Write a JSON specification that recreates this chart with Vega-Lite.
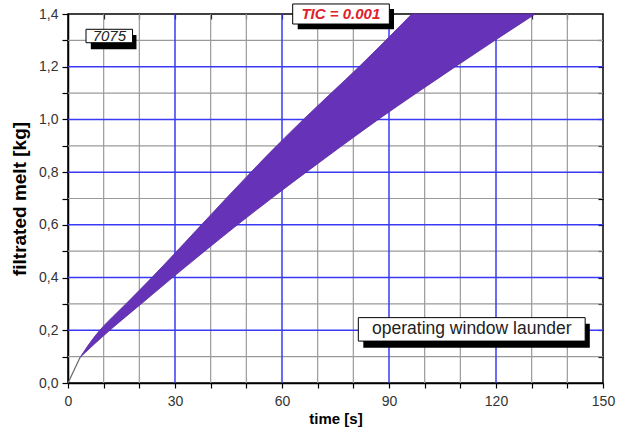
{
  "$schema": "https://vega.github.io/schema/vega-lite/v6.json",
  "width": 535,
  "height": 369,
  "autosize": {"type": "none"},
  "padding": {"left": 68, "top": 14, "right": 15, "bottom": 46},
  "background": "white",
  "config": {
    "view": {"stroke": "black", "strokeWidth": 1.5},
    "font": "Liberation Sans"
  },
  "datasets": {
    "band": [
      {"melt": 0.0975, "t_fast": 3.4, "t_slow": 3.4},
      {"melt": 0.2, "t_fast": 8.9, "t_slow": 11.7},
      {"melt": 0.3, "t_fast": 16.2, "t_slow": 20.5},
      {"melt": 0.4, "t_fast": 23.5, "t_slow": 29.3},
      {"melt": 0.5, "t_fast": 30.5, "t_slow": 38.3},
      {"melt": 0.6, "t_fast": 37.4, "t_slow": 47.5},
      {"melt": 0.7, "t_fast": 44.3, "t_slow": 57.0},
      {"melt": 0.8, "t_fast": 51.3, "t_slow": 66.8},
      {"melt": 0.9, "t_fast": 58.5, "t_slow": 76.8},
      {"melt": 1.0, "t_fast": 66.0, "t_slow": 87.0},
      {"melt": 1.1, "t_fast": 73.8, "t_slow": 97.7},
      {"melt": 1.2, "t_fast": 81.6, "t_slow": 108.6},
      {"melt": 1.3, "t_fast": 89.1, "t_slow": 119.7},
      {"melt": 1.4, "t_fast": 96.4, "t_slow": 131.0}
    ],
    "start": [
      {"t": 0, "melt": 0},
      {"t": 3.4, "melt": 0.0975}
    ],
    "gridx_minor": [{"t": 10}, {"t": 20}, {"t": 40}, {"t": 50}, {"t": 70}, {"t": 80}, {"t": 100}, {"t": 110}, {"t": 130}, {"t": 140}],
    "gridx_major": [{"t": 30}, {"t": 60}, {"t": 90}, {"t": 120}],
    "gridy_minor": [{"v": 0.1}, {"v": 0.3}, {"v": 0.5}, {"v": 0.7}, {"v": 0.9}, {"v": 1.1}, {"v": 1.3}],
    "gridy_major": [{"v": 0.2}, {"v": 0.4}, {"v": 0.6}, {"v": 0.8}, {"v": 1.0}, {"v": 1.2}],
    "shadows": [
      {"x1": 6.4, "x2": 19.2, "y1": 1.32, "y2": 1.266},
      {"x1": 64.4, "x2": 91.4, "y1": 1.419, "y2": 1.342},
      {"x1": 82.8, "x2": 146.3, "y1": 0.225, "y2": 0.134}
    ],
    "boxes": [
      {"x1": 5.05, "x2": 18.1, "y1": 1.342, "y2": 1.291},
      {"x1": 63.0, "x2": 90.1, "y1": 1.438, "y2": 1.362},
      {"x1": 81.4, "x2": 145.0, "y1": 0.248, "y2": 0.159}
    ],
    "alloy": [{"t": 11.6, "melt": 1.317, "label": "7075"}],
    "tic": [{"t": 76.5, "melt": 1.40, "label": "TIC = 0.001"}],
    "window": [{"t": 113.2, "melt": 0.204, "label": "operating window launder"}]
  },
  "resolve": {"axis": {"x": "independent", "y": "independent"}},
  "layer": [
    {
      "data": {"name": "gridx_minor"},
      "mark": {"type": "rule", "color": "#9a9a9a", "strokeWidth": 1.2},
      "encoding": {
        "x": {"field": "t", "type": "quantitative", "scale": {"domain": [0, 150], "nice": false}, "axis": null}
      }
    },
    {
      "data": {"name": "gridy_minor"},
      "mark": {"type": "rule", "color": "#9a9a9a", "strokeWidth": 1.2},
      "encoding": {
        "y": {"field": "v", "type": "quantitative", "scale": {"domain": [0, 1.4], "nice": false}, "axis": null}
      }
    },
    {
      "data": {"name": "gridx_major"},
      "mark": {"type": "rule", "color": "#3a3af5", "strokeWidth": 1.5},
      "encoding": {
        "x": {"field": "t", "type": "quantitative", "axis": null}
      }
    },
    {
      "data": {"name": "gridy_major"},
      "mark": {"type": "rule", "color": "#3a3af5", "strokeWidth": 1.5},
      "encoding": {
        "y": {"field": "v", "type": "quantitative", "axis": null}
      }
    },
    {
      "data": {"name": "band"},
      "mark": {"type": "area", "orient": "horizontal", "interpolate": "monotone", "color": "#6632b8", "stroke": "#55289f", "strokeWidth": 0.8},
      "encoding": {
        "y": {
          "field": "melt", "type": "quantitative",
          "axis": {
            "orient": "left",
            "values": [0, 0.1, 0.2, 0.3, 0.4, 0.5, 0.6, 0.7, 0.8, 0.9, 1.0, 1.1, 1.2, 1.3, 1.4],
            "labelExpr": "round(datum.value*10) % 2 == 0 ? replace(format(datum.value, '.1f'), '.', ',') : ''",
            "grid": false,
            "domainColor": "black", "domainWidth": 1.5,
            "tickColor": "black", "tickSize": 6, "tickWidth": 1.2,
            "labelFontSize": 14, "labelColor": "#333333", "labelPadding": 4,
            "labelOverlap": false, "labelFlush": false,
            "title": "filtrated melt [kg]", "titleFontSize": 19, "titleFontWeight": "bold",
            "titleColor": "black", "titlePadding": 9
          }
        },
        "x": {
          "field": "t_fast", "type": "quantitative",
          "axis": {
            "orient": "bottom",
            "values": [0, 10, 20, 30, 40, 50, 60, 70, 80, 90, 100, 110, 120, 130, 140, 150],
            "labelExpr": "datum.value % 30 == 0 ? format(datum.value, 'd') : ''",
            "grid": false,
            "domainColor": "black", "domainWidth": 1.5,
            "tickColor": "black", "tickSize": 5, "tickWidth": 1.2,
            "labelFontSize": 14, "labelColor": "#333333", "labelPadding": 6,
            "labelOverlap": false, "labelFlush": false,
            "title": "time [s]", "titleFontSize": 15, "titleFontWeight": "bold",
            "titleColor": "black", "titlePadding": 3
          }
        },
        "x2": {"field": "t_slow"}
      }
    },
    {
      "data": {"name": "start"},
      "mark": {"type": "line", "color": "#666666", "strokeWidth": 1.2},
      "encoding": {
        "x": {
          "field": "t", "type": "quantitative",
          "axis": {
            "orient": "top",
            "values": [10, 20, 30, 40, 50, 60, 70, 80, 90, 100, 110, 120, 130, 140],
            "labels": false, "domain": false, "grid": false, "title": null,
            "tickColor": "black", "tickSize": -5, "tickWidth": 1.2
          }
        },
        "y": {
          "field": "melt", "type": "quantitative",
          "axis": {
            "orient": "right",
            "values": [0.1, 0.2, 0.3, 0.4, 0.5, 0.6, 0.7, 0.8, 0.9, 1.0, 1.1, 1.2, 1.3],
            "labels": false, "domain": false, "grid": false, "title": null,
            "tickColor": "black", "tickSize": -5, "tickWidth": 1.2
          }
        }
      }
    },
    {
      "data": {"name": "shadows"},
      "mark": {"type": "rect", "color": "black"},
      "encoding": {
        "x": {"field": "x1", "type": "quantitative", "axis": null},
        "x2": {"field": "x2"},
        "y": {"field": "y1", "type": "quantitative", "axis": null},
        "y2": {"field": "y2"}
      }
    },
    {
      "data": {"name": "boxes"},
      "mark": {"type": "rect", "fill": "white", "stroke": "black", "strokeWidth": 1},
      "encoding": {
        "x": {"field": "x1", "type": "quantitative", "axis": null},
        "x2": {"field": "x2"},
        "y": {"field": "y1", "type": "quantitative", "axis": null},
        "y2": {"field": "y2"}
      }
    },
    {
      "data": {"name": "alloy"},
      "mark": {"type": "text", "fontSize": 15, "fontStyle": "italic", "color": "#222222", "align": "center", "baseline": "middle"},
      "encoding": {
        "x": {"field": "t", "type": "quantitative", "axis": null},
        "y": {"field": "melt", "type": "quantitative", "axis": null},
        "text": {"field": "label"}
      }
    },
    {
      "data": {"name": "tic"},
      "mark": {"type": "text", "fontSize": 15, "fontStyle": "italic", "fontWeight": "bold", "color": "#e0202a", "align": "center", "baseline": "middle"},
      "encoding": {
        "x": {"field": "t", "type": "quantitative", "axis": null},
        "y": {"field": "melt", "type": "quantitative", "axis": null},
        "text": {"field": "label"}
      }
    },
    {
      "data": {"name": "window"},
      "mark": {"type": "text", "fontSize": 17.5, "color": "#222222", "align": "center", "baseline": "middle"},
      "encoding": {
        "x": {"field": "t", "type": "quantitative", "axis": null},
        "y": {"field": "melt", "type": "quantitative", "axis": null},
        "text": {"field": "label"}
      }
    }
  ]
}
